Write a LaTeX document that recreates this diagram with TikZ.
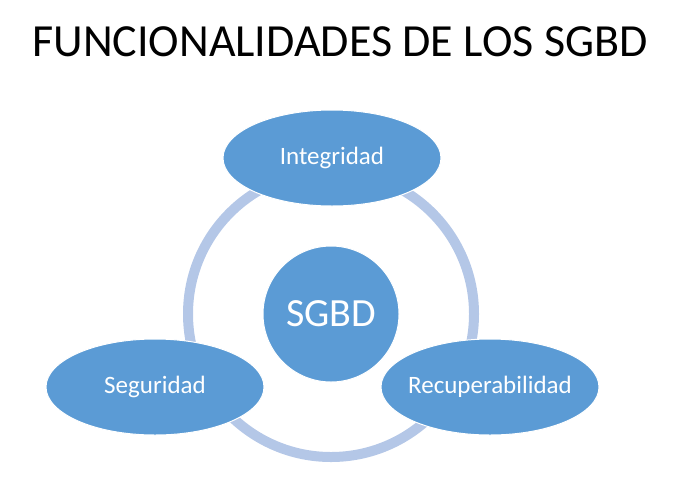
\documentclass[tikz,border=0pt]{standalone}
\usepackage{fontspec}
\setmainfont{Carlito}
\usetikzlibrary{shapes.geometric}
\definecolor{fillblue}{HTML}{5B9BD5}
\definecolor{ringblue}{HTML}{B4C7E7}
\begin{document}
\begin{tikzpicture}[x=1pt,y=-1pt,
  bubble/.style={ellipse, fill=fillblue, draw=white, line width=1pt, inner sep=0pt, minimum width=218pt, minimum height=96pt},
  bubbletext/.style={text=white, inner sep=0pt, font=\fontsize{25}{28}\selectfont},
  titletext/.style={font=\fontsize{46}{56}\selectfont, anchor=base}]
\useasboundingbox (0,0) rectangle (679,491);
\node[titletext, text=black] (title) at (340,56) {FUNCIONALIDADES DE LOS SGBD};
\coordinate (c) at (331,314);
\draw[ringblue, line width=10pt] (c) circle[radius=143];
\node[circle, fill=fillblue, draw=white, line width=1pt, minimum size=136pt, text=white, font=\fontsize{40}{44}\selectfont] (sgbd) at (c) {SGBD};
\node[bubble] (integ) at (332,158) {};
\node[bubbletext] (integt) at (integ) {Integridad};
\node[bubble] (segur) at (155,387) {};
\node[bubbletext] (segurt) at (segur) {Seguridad};
\node[bubble] (recup) at (490,387) {};
\node[bubbletext] (recupt) at (recup) {Recuperabilidad};
\end{tikzpicture}
\end{document}
